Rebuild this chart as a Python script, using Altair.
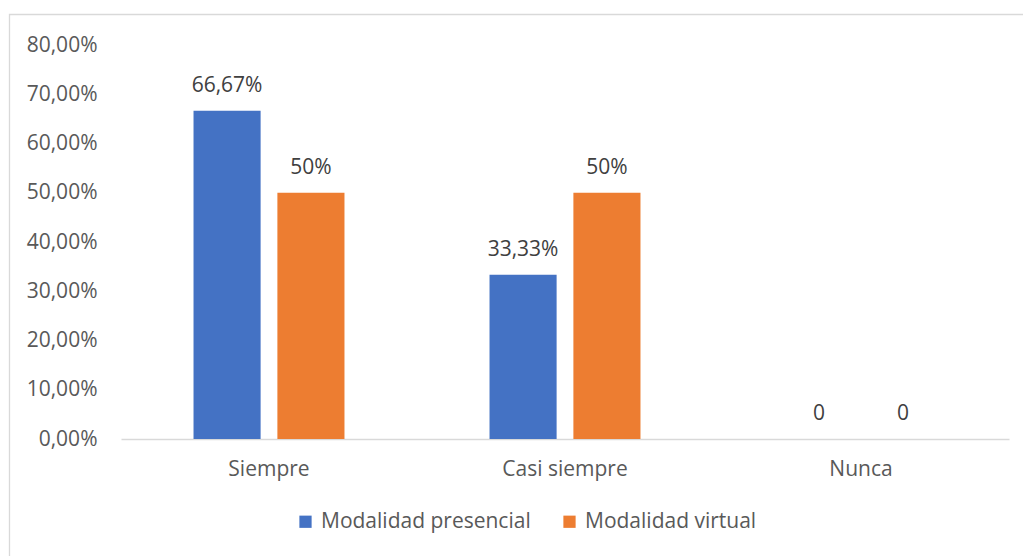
import altair as alt
import pandas as pd

categories = ["Siempre", "Casi siempre", "Nunca"]
series = ["Modalidad presencial", "Modalidad virtual"]
presencial = [0.6667, 0.3333, 0.0]
virtual = [0.50, 0.50, 0.0]
labels_presencial = ["66,67%", "33,33%", "0"]
labels_virtual = ["50%", "50%", "0"]
y_ticks = [0, 0.1, 0.2, 0.3, 0.4, 0.5, 0.6, 0.7, 0.8]
colors = ["#4472C4", "#ED7D31"]

rows = []
for i, c in enumerate(categories):
    rows.append({"cat": c, "serie": series[0], "val": presencial[i], "lab": labels_presencial[i]})
    rows.append({"cat": c, "serie": series[1], "val": virtual[i], "lab": labels_virtual[i]})
df = pd.DataFrame(rows)

FONT = "Open Sans"
FS = 21

x = alt.X("cat:N", sort=categories, title=None,
          scale=alt.Scale(paddingInner=0.49, paddingOuter=0.245),
          axis=alt.Axis(labelAngle=0, ticks=False, domain=True, domainColor="#d9d9d9",
                        domainWidth=1.3, labelPadding=19, labelFontSize=FS, labelFont=FONT,
                        labelColor="#595959"))
xo = alt.XOffset("serie:N", sort=series, scale=alt.Scale(paddingInner=0.2, paddingOuter=0))
y = alt.Y("val:Q", title=None,
          scale=alt.Scale(domain=[0, 0.8], nice=False),
          axis=alt.Axis(values=y_ticks, grid=False, ticks=False, domain=False,
                        labelExpr="replace(format(datum.value, '.2%'), '.', ',')",
                        labelPadding=24, labelFontSize=FS, labelFont=FONT,
                        labelColor="#595959"))

base = alt.Chart(df)

bars = base.mark_bar().encode(
    x=x, xOffset=xo, y=y,
    color=alt.Color("serie:N", sort=series, scale=alt.Scale(domain=series, range=colors),
                    legend=alt.Legend(title=None, orient="none", legendX=174, legendY=466,
                                      direction="horizontal", symbolType="square",
                                      symbolSize=150, symbolStrokeWidth=0,
                                      labelFontSize=FS, labelFont=FONT, labelColor="#595959",
                                      columnPadding=28, labelOffset=5, labelLimit=400)),
)

text = base.mark_text(baseline="middle", dy=-25, fontSize=FS, font=FONT, color="#404040").encode(
    x=x, xOffset=xo, y=y, text="lab:N"
)

border = alt.Chart(alt.Data(values=[{"a": 1}])).mark_rect(
    filled=False, stroke="#d9d9d9", strokeWidth=1.3
).encode(x=alt.value(-111.5), x2=alt.value(920), y=alt.value(-30.5), y2=alt.value(530))

chart = alt.layer(border, bars, text).properties(
    width=888, height=394,
    autosize=alt.AutoSizeParams(type="none"),
    padding={"left": 121, "top": 45, "right": 14, "bottom": 117},
).configure_view(stroke=None)

chart.save("out.html", embed_options={"renderer": "svg", "actions": False})
